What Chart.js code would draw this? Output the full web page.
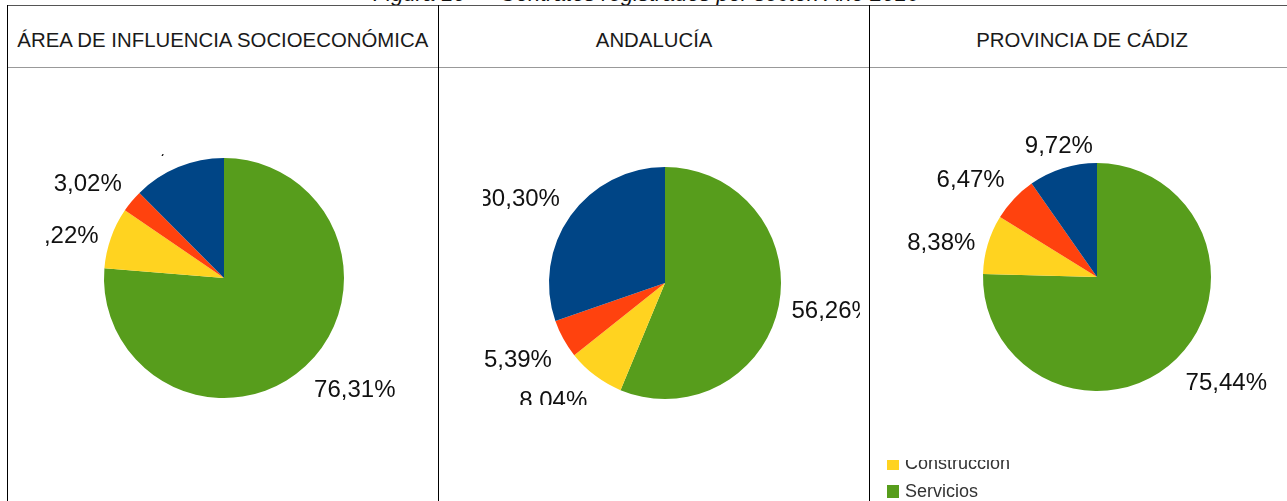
<!DOCTYPE html>
<html>
<head>
<meta charset="utf-8">
<script src="https://cdn.jsdelivr.net/npm/chart.js@4/dist/chart.umd.min.js"></script>
<style>
  html, body { margin:0; padding:0; background:#fff; }
  body { width:1287px; height:501px; overflow:hidden; position:relative; font-family:"Liberation Sans", Arial, sans-serif; }
  .vline { position:absolute; width:1px; background:#000; top:5px; height:496px; }
  .hline { position:absolute; height:1px; left:7px; width:1290px; }
  .head { position:absolute; top:9px; height:61px; display:flex; align-items:center; justify-content:center; font-size:21px; color:#1a1a1a; white-space:nowrap; }
  .head span { display:inline-block; transform:scaleX(0.97); }
  #title { position:absolute; top:-17px; left:0; width:1292px; text-align:center; font-style:italic; font-size:22px; line-height:22px; color:#111; white-space:nowrap; }
  canvas { position:absolute; left:0; top:0; }
</style>
</head>
<body>
<div id="title">Figura 10 — Contratos registrados por sector. Año 2016</div>
<div class="hline" style="top:5px;background:#555;"></div>
<div class="hline" style="top:67px;background:#999;"></div>
<div class="vline" style="left:7px;"></div>
<div class="vline" style="left:438px;"></div>
<div class="vline" style="left:869px;"></div>
<div class="head" style="left:8px;width:430px;"><span>ÁREA DE INFLUENCIA SOCIOECONÓMICA</span></div>
<div class="head" style="left:439px;width:430px;"><span>ANDALUCÍA</span></div>
<div class="head" style="left:870px;width:424px;"><span>PROVINCIA DE CÁDIZ</span></div>

<canvas id="c1" width="1287" height="501"></canvas>
<canvas id="c2" width="1287" height="501"></canvas>
<canvas id="c3" width="1287" height="501"></canvas>

<script>
// Data (order as in the source legend)
const sectors = ['Agricultura', 'Industria', 'Construcción', 'Servicios'];
const colors = ['#004586', '#ff420e', '#ffd320', '#579d1c'];
const areaValues = [12.45, 3.02, 8.22, 76.31];
const andaluciaValues = [30.30, 5.39, 8.04, 56.26];
const cadizValues = [9.72, 6.47, 8.38, 75.44];

const fmt = v => v.toFixed(2).replace('.', ',') + '%';

const outsideLabels = {
  id: 'outsideLabels',
  afterDatasetsDraw(chart, args, opts) {
    const ctx = chart.ctx;
    const meta = chart.getDatasetMeta(0);
    const data = chart.data.datasets[0].data;
    ctx.save();
    if (opts.clip) {
      const c = opts.clip;
      ctx.beginPath(); ctx.rect(c[0], c[1], c[2] - c[0], c[3] - c[1]); ctx.clip();
    }
    ctx.font = '24px "Liberation Sans", Arial, sans-serif';
    ctx.fillStyle = '#111';
    meta.data.forEach((arc, i) => {
      const p = arc.getProps(['x', 'y', 'startAngle', 'endAngle', 'outerRadius'], true);
      const mid = (p.startAngle + p.endAngle) / 2;
      const dx = Math.cos(mid), dy = Math.sin(mid);
      const r = p.outerRadius + 13;
      const ax = p.x + dx * r, ay = p.y + dy * r + 3;
      ctx.textAlign = Math.abs(dx) < 0.4 ? 'center' : (dx > 0 ? 'left' : 'right');
      ctx.textBaseline = Math.abs(dy) < 0.4 ? 'middle' : (dy > 0 ? 'top' : 'bottom');
      ctx.fillText(fmt(data[i]), ax, ay);
    });
    ctx.restore();

    if (opts.legend) {
      const L = opts.legend;
      ctx.save();
      ctx.beginPath(); ctx.rect(L.clip[0], L.clip[1], L.clip[2] - L.clip[0], L.clip[3] - L.clip[1]); ctx.clip();
      ctx.font = '18px "Liberation Sans", Arial, sans-serif';
      ctx.textAlign = 'left';
      ctx.textBaseline = 'middle';
      sectors.forEach((s, k) => {
        const cy = L.y + k * L.step;
        ctx.fillStyle = colors[k];
        ctx.fillRect(L.x, cy - 6, 12, 13);
        ctx.fillStyle = '#333';
        ctx.fillText(s, L.x + 18, cy + 1);
      });
      ctx.restore();
    }
  }
};

function makePie(id, values, cx, cy, r, labelOpts) {
  const rev = values.slice().reverse();
  const revLabels = sectors.slice().reverse();
  const revColors = colors.slice().reverse();
  return new Chart(document.getElementById(id), {
    type: 'pie',
    data: {
      labels: revLabels,
      datasets: [{ data: rev, backgroundColor: revColors, borderWidth: 0, hoverOffset: 0 }]
    },
    options: {
      responsive: false,
      animation: false,
      events: [],
      layout: { padding: { left: cx - r, right: 1287 - (cx + r), top: cy - r, bottom: 501 - (cy + r) } },
      plugins: {
        legend: { display: false },
        tooltip: { enabled: false },
        outsideLabels: labelOpts
      }
    },
    plugins: [outsideLabels]
  });
}

makePie('c1', areaValues, 224, 278, 120, { clip: [46, 154, 437, 412] });
makePie('c2', andaluciaValues, 665, 283, 116, { clip: [483, 150, 860, 405] });
makePie('c3', cadizValues, 1097, 277, 114, {
  clip: [870, 70, 1287, 440],
  legend: { x: 887, y: 407, step: 28, clip: [870, 460, 1287, 501] }
});
</script>
</body>
</html>
